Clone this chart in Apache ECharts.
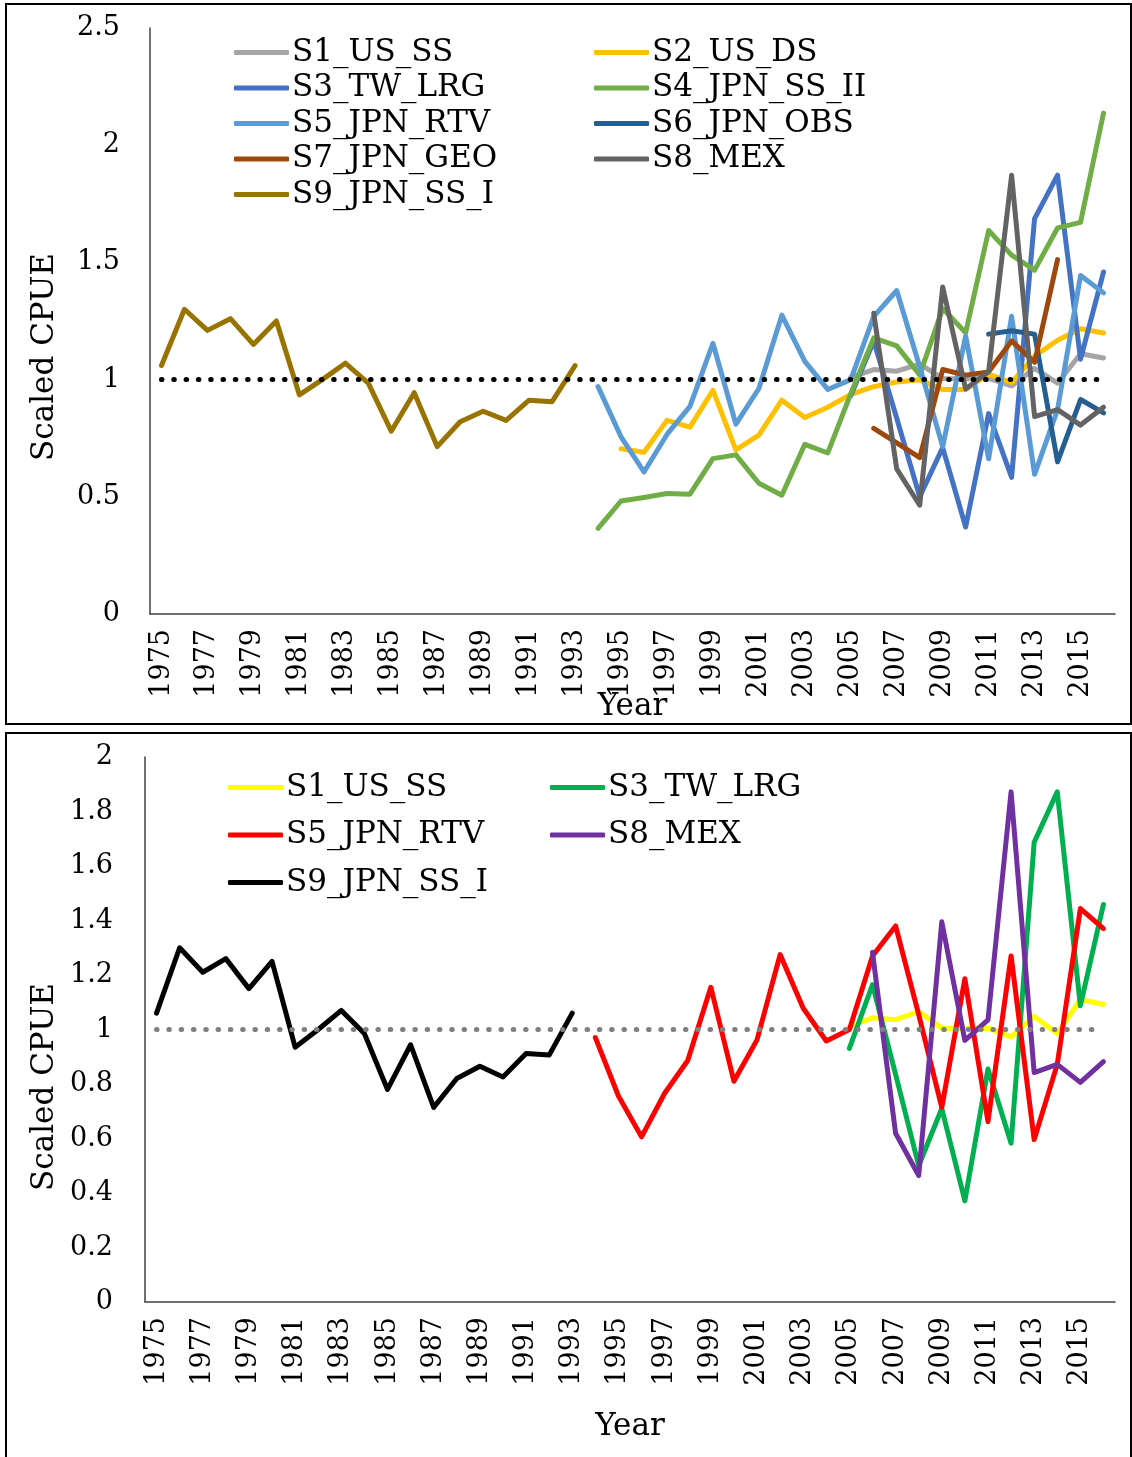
<!DOCTYPE html>
<html><head><meta charset="utf-8">
<script src="https://cdn.jsdelivr.net/npm/echarts@6/dist/echarts.min.js"></script>
<style>
html,body{margin:0;padding:0;background:#fff;}
#top{position:absolute;left:0;top:0;width:1132px;height:729px;}
#bot{position:absolute;left:0;top:729px;width:1132px;height:728px;}
</style>
</head><body>
<div id="top"></div><div id="bot"></div>
<script>
// ---- categories ----
const years = ['1975','1976','1977','1978','1979','1980','1981','1982','1983','1984','1985','1986','1987','1988','1989','1990','1991','1992','1993','1994','1995','1996','1997','1998','1999','2000','2001','2002','2003','2004','2005','2006','2007','2008','2009','2010','2011','2012','2013','2014','2015','2016'];

// ---- series values (first year, then values) ----
const s1Start = 2005;
const s1 = [1.01, 1.043, 1.036, 1.066, 1.005, 1.004, 1.005, 0.973, 1.048, 0.985, 1.11, 1.092];
const s2Start = 1995;
const s2 = [0.705, 0.69, 0.826, 0.797, 0.954, 0.7, 0.763, 0.912, 0.838, 0.882, 0.937, 0.97, 0.99, 0.999, 0.958, 0.958, 1.024, 0.987, 1.10, 1.168, 1.217, 1.199];
const s3Start = 2005;
const s3 = [0.931, 1.165, 0.835, 0.5, 0.71, 0.371, 0.855, 0.583, 1.687, 1.872, 1.087, 1.459];
const s4Start = 1994;
const s4 = [0.365, 0.482, 0.497, 0.514, 0.511, 0.663, 0.679, 0.558, 0.507, 0.724, 0.687, 0.94, 1.178, 1.144, 1.02, 1.303, 1.2, 1.636, 1.531, 1.467, 1.647, 1.671, 2.137];
const s5Start = 1994;
const s5 = [0.97, 0.756, 0.606, 0.766, 0.886, 1.155, 0.81, 0.962, 1.275, 1.078, 0.958, 1.0, 1.27, 1.38, 1.055, 0.714, 1.186, 0.662, 1.27, 0.596, 0.872, 1.444, 1.37];
const s6Start = 2011;
const s6 = [1.194, 1.208, 1.194, 0.649, 0.915, 0.858];
const s7Start = 2006;
const s7 = [0.792, 0.73, 0.667, 1.043, 1.019, 1.033, 1.165, 1.074, 1.512];
const s8Start = 2006;
const s8 = [1.283, 0.619, 0.464, 1.395, 0.96, 1.035, 1.872, 0.842, 0.872, 0.806, 0.882];
const s9Start = 1975;
const s9 = [1.06, 1.30, 1.21, 1.26, 1.15, 1.25, 0.935, 1.00, 1.07, 0.985, 0.78, 0.944, 0.714, 0.82, 0.865, 0.826, 0.912, 0.906, 1.06];

const refValue = 1;
const topYTicks = {min: 0, max: 2.5, interval: 0.5};
const botYTicks = {min: 0, max: 2, interval: 0.2};

const FONT = 'DejaVu Serif';

function pad(start, vals) {
  const out = years.map(() => null);
  const off = years.indexOf(String(start));
  vals.forEach((v, i) => { out[off + i] = v; });
  return out;
}

function lineSeries(name, start, vals, color) {
  return {
    name: name, type: 'line', data: pad(start, vals),
    symbol: 'none', showSymbol: false, connectNulls: false,
    lineStyle: {color: color, width: 5, cap: 'round', join: 'round'},
    itemStyle: {color: color},
    emphasis: {disabled: true}
  };
}

function refSeries(color) {
  return {
    name: 'ref', type: 'line', data: [], symbol: 'none', z: 5,
    markLine: {
      silent: true, symbol: 'none', label: {show: false},
      lineStyle: {color: color, width: 5, type: [0.5, 11.8], cap: 'round'},
      emphasis: {disabled: true},
      data: [[{xAxis: years[0], yAxis: refValue}, {xAxis: years[years.length - 1], yAxis: refValue}]]
    }
  };
}

function legendCol(left, top, gap, names) {
  return {
    left: left, top: top, orient: 'vertical', padding: 0,
    itemWidth: 55, itemHeight: 5, itemGap: gap, icon: 'roundRect',
    selectedMode: false,
    data: names,
    textStyle: {fontFamily: FONT, fontSize: 31, lineHeight: 31, color: '#000', padding: [0,0,0,-2]}
  };
}

function baseOption(cfg) {
  return {
    animation: false,
    backgroundColor: '#fff',
    grid: {left: cfg.left, right: 17, top: 28, bottom: cfg.bottom, containLabel: false, outerBoundsMode: 'none'},
    xAxis: {
      type: 'category', data: years, boundaryGap: true,
      axisLine: {show: true, lineStyle: {color: '#404040', width: 1.5}},
      axisTick: {show: false},
      axisLabel: {interval: 1, rotate: 90, margin: 15, fontFamily: FONT, fontSize: 27, color: '#000'},
      splitLine: {show: false},
      name: 'Year', nameLocation: 'middle', nameGap: cfg.nameGap, nameMoveOverlap: false,
      nameTextStyle: {fontFamily: FONT, fontSize: 31, color: '#000'}
    },
    yAxis: {
      type: 'value', min: cfg.y.min, max: cfg.y.max, interval: cfg.y.interval,
      axisLine: {show: true, lineStyle: {color: '#404040', width: 1.5}},
      axisTick: {show: false},
      splitLine: {show: false},
      axisLabel: {margin: cfg.ymargin, fontFamily: FONT, fontSize: 27, color: '#000'}
    },
    graphic: [
      {type: 'rect', silent: true, z: -10, shape: {x: 6, y: 4, width: 1125, height: cfg.frameH},
       style: {fill: 'none', stroke: '#000', lineWidth: 2}},
      {type: 'text', silent: true, x: 45, y: cfg.nameY, rotation: Math.PI / 2,
       style: {text: 'Scaled CPUE', fontFamily: FONT, fontSize: 31, fill: '#000', align: 'center', verticalAlign: 'middle'}}
    ]
  };
}

// ---- top chart ----
const topChart = echarts.init(document.getElementById('top'));
const topOpt = baseOption({left: 150, bottom: 115, nameGap: 77, y: topYTicks, ymargin: 30, frameH: 720, nameY: 357});
topOpt.legend = [
  legendCol(234, 37, 4.5, ['S1_US_SS', 'S3_TW_LRG', 'S5_JPN_RTV', 'S7_JPN_GEO', 'S9_JPN_SS_I']),
  legendCol(594, 37, 4.5, ['S2_US_DS', 'S4_JPN_SS_II', 'S6_JPN_OBS', 'S8_MEX'])
];
topOpt.series = [
  lineSeries('S1_US_SS', s1Start, s1, '#A5A5A5'),
  lineSeries('S2_US_DS', s2Start, s2, '#FFC000'),
  lineSeries('S3_TW_LRG', s3Start, s3, '#4472C4'),
  lineSeries('S4_JPN_SS_II', s4Start, s4, '#70AD47'),
  lineSeries('S5_JPN_RTV', s5Start, s5, '#5B9BD5'),
  lineSeries('S6_JPN_OBS', s6Start, s6, '#255E91'),
  lineSeries('S7_JPN_GEO', s7Start, s7, '#9E480E'),
  lineSeries('S8_MEX', s8Start, s8, '#636363'),
  lineSeries('S9_JPN_SS_I', s9Start, s9, '#997300'),
  refSeries('#000000')
];
topChart.setOption(topOpt);

// ---- bottom chart ----
const botChart = echarts.init(document.getElementById('bot'));
const botOpt = baseOption({left: 145, bottom: 155, nameGap: 109, y: botYTicks, ymargin: 32, frameH: 740, nameY: 358});
botOpt.legend = [
  legendCol(228, 43, 16.5, ['S1_US_SS', 'S5_JPN_RTV', 'S9_JPN_SS_I']),
  legendCol(550, 43, 16.5, ['S3_TW_LRG', 'S8_MEX'])
];
botOpt.series = [
  lineSeries('S1_US_SS', s1Start, s1, '#FFFF00'),
  lineSeries('S3_TW_LRG', s3Start, s3, '#00B050'),
  lineSeries('S5_JPN_RTV', s5Start, s5, '#FF0000'),
  lineSeries('S8_MEX', s8Start, s8, '#7030A0'),
  lineSeries('S9_JPN_SS_I', s9Start, s9, '#000000'),
  refSeries('#7F7F7F')
];
botChart.setOption(botOpt);
</script>
</body></html>
